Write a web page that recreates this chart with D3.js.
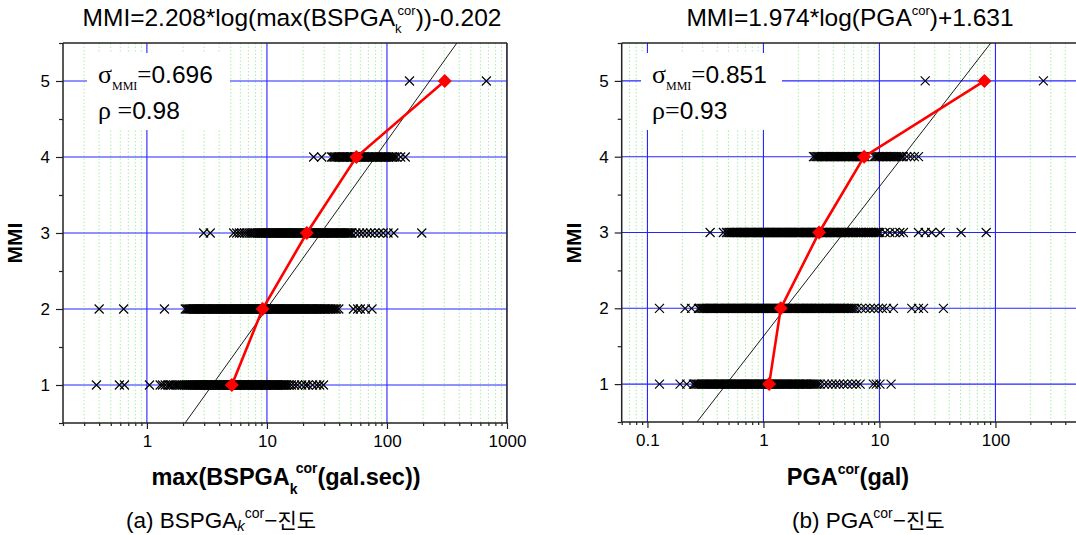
<!DOCTYPE html>
<html><head><meta charset="utf-8">
<script src="https://cdn.jsdelivr.net/npm/d3@7"></script>
<style>body{margin:0;background:#fff}svg{display:block}</style>
</head><body><svg id="c" width="1076" height="535"></svg>
<script>
// ---------------- data ----------------
const mmiLevels = [1, 2, 3, 4, 5];
const yTickLabels = ["1", "2", "3", "4", "5"];

// (a) max(BSPGA_k^cor) values for each MMI level
const bspMMI1 = [0.38, 0.59, 0.65, 1.05, 1.29, 1.35, 1.42, 1.5, 1.55, 1.6, 1.68, 1.75, 1.82, 1.9, 1.98, 2.05, 2.12, 2.2, 2.3, 2.4, 2.5, 2.6, 2.7, 2.8, 2.9, 3.0, 3.1, 3.2, 3.3, 3.4, 3.5, 3.65, 3.8, 3.95, 4.1, 4.25, 4.4, 4.55, 4.7, 4.85, 5.0, 5.2, 5.4, 5.6, 5.8, 6.0, 6.2, 6.4, 6.6, 6.8, 7.0, 7.3, 7.6, 7.9, 8.2, 8.5, 8.8, 9.1, 9.4, 9.7, 10, 10.4, 10.8, 11.2, 11.6, 12, 12.5, 13, 13.5, 14, 14.6, 15.2, 16, 17, 18, 19.5, 21, 22, 24, 26, 27.5, 29.6,
  2.16, 2.25, 2.35, 2.45, 2.55, 2.65, 2.75, 2.85, 2.95, 3.05, 3.15, 3.25, 3.35, 3.45, 3.57, 3.72, 3.87, 4.02, 4.17, 4.32, 4.47, 4.62, 4.77, 4.92, 5.1, 5.3, 5.5, 5.7, 5.9, 6.1, 6.3, 6.5, 6.7, 6.9, 7.15, 7.45, 7.75, 8.05, 8.35, 8.65, 8.95, 9.25, 9.55, 9.85, 10.2, 10.6, 11, 11.4, 11.8, 12.25, 12.75, 13.25, 13.75, 14.3];
const bspMMI2 = [0.40, 0.64, 1.40, 2.09, 2.2, 2.3, 2.4, 2.5, 2.6, 2.7, 2.8, 2.9, 3.0, 3.1, 3.2, 3.35, 3.5, 3.65, 3.8, 3.95, 4.1, 4.25, 4.4, 4.6, 4.8, 5.0, 5.2, 5.4, 5.6, 5.8, 6.0, 6.2, 6.4, 6.6, 6.8, 7.0, 7.3, 7.6, 7.9, 8.2, 8.5, 8.8, 9.1, 9.4, 9.7, 10, 10.4, 10.8, 11.2, 11.6, 12, 12.5, 13, 13.5, 14, 14.5, 15, 15.6, 16.2, 16.8, 17.4, 18, 18.7, 19.4, 20, 21, 22, 23, 24, 25, 26, 27, 28, 29.5, 31, 33, 35, 37, 39.7, 52.5, 57, 60, 66, 75,
  2.15, 2.25, 2.35, 2.45, 2.55, 2.65, 2.75, 2.85, 2.95, 3.05, 3.15, 3.27, 3.42, 3.57, 3.72, 3.87, 4.02, 4.17, 4.32, 4.5, 4.7, 4.9, 5.1, 5.3, 5.5, 5.7, 5.9, 6.1, 6.3, 6.5, 6.7, 6.9, 7.15, 7.45, 7.75, 8.05, 8.35, 8.65, 8.95, 9.25, 9.55, 9.85, 10.2, 10.6, 11, 11.4, 11.8, 12.25, 12.75, 13.25, 13.75, 14.25, 14.75, 15.3, 15.9, 16.5, 17.1, 17.7, 18.35, 19.05, 19.7, 20.5, 21.5, 22.5, 23.5, 24.5, 25.5, 26.5, 27.5, 28.7, 30.2, 32, 34, 36, 38];
const bspMMI3 = [2.97, 3.37, 5.28, 5.6, 5.9, 6.2, 6.5, 6.8, 7.1, 7.4, 7.7, 8.0, 8.3, 8.6, 8.9, 9.2, 9.5, 9.8, 10.2, 10.6, 11, 11.4, 11.8, 12.2, 12.7, 13.2, 13.7, 14.2, 14.8, 15.4, 16, 16.6, 17.2, 17.8, 18.5, 19.2, 20, 21, 22, 23, 24, 25, 26, 27, 28, 29, 30, 31.5, 33, 34.5, 36, 37.5, 39, 41, 43, 45, 47, 49, 51, 55, 59, 63, 68, 73, 79, 86, 93, 102, 114, 195,
  8.45, 8.75, 9.05, 9.35, 9.65, 10, 10.4, 10.8, 11.2, 11.6, 12, 12.45, 12.95, 13.45, 13.95, 14.5, 15.1, 15.7, 16.3, 16.9, 17.5, 18.15, 18.85, 19.6, 20.5, 21.5, 22.5, 23.5, 24.5, 25.5, 26.5, 27.5, 28.5, 29.5, 30.7, 32.2, 33.7, 35.2, 36.7, 38.2, 40, 42, 44, 46, 48, 50];
const bspMMI4 = [24.5, 28.6, 34.6, 36.5, 38.5, 40.5, 42.5, 44.5, 47, 49.5, 52, 55, 58, 61, 64, 67, 70, 74, 78, 82, 86, 90, 95, 100, 106, 112, 120, 130, 142,
  35.5, 37.5, 39.5, 41.5, 43.5, 45.7, 48.2, 50.7, 53.5, 56.5, 59.5, 62.5, 65.5, 68.5, 72, 76, 80, 84, 88, 92.5, 97.5, 103, 109, 116];
const bspMMI5 = [154, 673];
const bspMean = [5.1, 9.2, 21.5, 55.6, 303];
const bspFit = { slope: 2.208, intercept: -0.202 };
const bspXTicks = [1, 10, 100, 1000];
const bspXTickLabels = ["1", "10", "100", "1000"];

// (b) PGA^cor values for each MMI level
const pgaMMI1 = [0.127, 0.191, 0.218, 0.249, 0.262, 0.275, 0.29, 0.305, 0.32, 0.335, 0.35, 0.365, 0.38, 0.4, 0.42, 0.44, 0.46, 0.48, 0.5, 0.52, 0.545, 0.57, 0.595, 0.62, 0.645, 0.67, 0.7, 0.73, 0.76, 0.79, 0.82, 0.86, 0.9, 0.94, 0.98, 1.02, 1.07, 1.12, 1.17, 1.22, 1.27, 1.33, 1.39, 1.45, 1.52, 1.59, 1.66, 1.74, 1.82, 1.9, 2.0, 2.1, 2.2, 2.3, 2.4, 2.55, 2.7, 2.85, 3.08, 3.35, 3.6, 3.9, 4.2, 4.5, 4.9, 5.3, 5.8, 6.3, 6.82, 8.87, 9.4, 10.1, 12.6,
  0.255, 0.268, 0.282, 0.297, 0.312, 0.327, 0.342, 0.357, 0.372, 0.39, 0.41, 0.43, 0.45, 0.47, 0.49, 0.51, 0.532, 0.557, 0.582, 0.607, 0.632, 0.657, 0.685, 0.715, 0.745, 0.775, 0.805, 0.84, 0.88, 0.92, 0.96, 1.0, 1.045, 1.095, 1.145, 1.195, 1.245, 1.3, 1.36, 1.42, 1.485, 1.555, 1.625, 1.7, 1.78, 1.86, 1.95, 2.05, 2.15, 2.25, 2.35, 2.47, 2.62, 2.77, 2.95];
const pgaMMI2 = [0.127, 0.211, 0.24, 0.275, 0.29, 0.305, 0.32, 0.335, 0.35, 0.365, 0.38, 0.4, 0.42, 0.44, 0.46, 0.48, 0.5, 0.52, 0.545, 0.57, 0.595, 0.62, 0.645, 0.67, 0.7, 0.73, 0.76, 0.79, 0.82, 0.86, 0.9, 0.94, 0.98, 1.02, 1.07, 1.12, 1.17, 1.22, 1.27, 1.33, 1.39, 1.45, 1.52, 1.59, 1.66, 1.74, 1.82, 1.9, 2.0, 2.1, 2.2, 2.3, 2.4, 2.5, 2.6, 2.75, 2.9, 3.05, 3.2, 3.35, 3.5, 3.7, 3.9, 4.1, 4.3, 4.5, 4.75, 5.0, 5.3, 5.6, 5.9, 6.38, 7.0, 7.6, 8.3, 9.0, 9.8, 10.6, 11.5, 13.2, 19, 21.7, 24, 35.6,
  0.282, 0.297, 0.312, 0.327, 0.342, 0.357, 0.372, 0.39, 0.41, 0.43, 0.45, 0.47, 0.49, 0.51, 0.532, 0.557, 0.582, 0.607, 0.632, 0.657, 0.685, 0.715, 0.745, 0.775, 0.805, 0.84, 0.88, 0.92, 0.96, 1.0, 1.045, 1.095, 1.145, 1.195, 1.245, 1.3, 1.36, 1.42, 1.485, 1.555, 1.625, 1.7, 1.78, 1.86, 1.95, 2.05, 2.15, 2.25, 2.35, 2.45, 2.55, 2.67, 2.82, 2.97, 3.12, 3.27, 3.42, 3.6, 3.8, 4.0, 4.2, 4.4, 4.62, 4.87, 5.15, 5.45, 5.75, 6.1];
const pgaMMI3 = [0.347, 0.452, 0.48, 0.51, 0.54, 0.57, 0.6, 0.63, 0.66, 0.69, 0.72, 0.75, 0.78, 0.81, 0.85, 0.89, 0.93, 0.97, 1.01, 1.05, 1.1, 1.15, 1.2, 1.25, 1.3, 1.36, 1.42, 1.48, 1.54, 1.61, 1.68, 1.75, 1.83, 1.91, 2.0, 2.1, 2.2, 2.3, 2.4, 2.5, 2.6, 2.7, 2.85, 3.0, 3.15, 3.3, 3.45, 3.6, 3.8, 4.0, 4.2, 4.4, 4.6, 4.85, 5.1, 5.4, 5.7, 6.0, 6.4, 6.8, 7.3, 7.8, 8.3, 8.9, 9.5, 10.1, 11.2, 12.3, 13.6, 15, 16.1, 21.7, 24.8, 28.2, 33.4, 50.6, 83.2,
  0.495, 0.525, 0.555, 0.585, 0.615, 0.645, 0.675, 0.705, 0.735, 0.765, 0.795, 0.83, 0.87, 0.91, 0.95, 0.99, 1.03, 1.075, 1.125, 1.175, 1.225, 1.275, 1.33, 1.39, 1.45, 1.51, 1.575, 1.645, 1.715, 1.79, 1.87, 1.955, 2.05, 2.15, 2.25, 2.35, 2.45, 2.55, 2.65, 2.77, 2.92, 3.07, 3.22, 3.37, 3.52, 3.7, 3.9, 4.1, 4.3, 4.5, 4.72, 4.97, 5.25, 5.55, 5.85, 6.2, 6.6, 7.05, 7.55, 8.05, 8.6, 9.2, 9.8];
const pgaMMI4 = [2.7, 2.85, 3.0, 3.15, 3.3, 3.45, 3.6, 3.8, 4.0, 4.2, 4.4, 4.6, 4.85, 5.1, 5.4, 5.7, 6.0, 6.3, 6.6, 6.9, 7.2, 7.5, 9.0, 9.5, 10, 10.6, 11.2, 11.8, 12.5, 13.2, 14, 15, 16, 17.2, 18.5, 20, 21.7,
  2.77, 2.92, 3.07, 3.22, 3.37, 3.52, 3.7, 3.9, 4.1, 4.3, 4.5, 4.72, 4.97, 5.25, 5.55, 5.85, 6.15, 6.45, 6.75, 7.05, 7.35, 9.25, 9.75, 10.3, 10.9, 11.5, 12.15, 12.85, 13.6, 14.5, 15.5];
const pgaMMI5 = [24.8, 259];
const pgaMean = [1.12, 1.41, 3.02, 7.38, 80.4];
const pgaFit = { slope: 1.974, intercept: 1.631 };
const pgaXTicks = [0.1, 1, 10, 100];
const pgaXTickLabels = ["0.1", "1", "10", "100"];

// ---------------- drawing ----------------
const W = 1076;
const svg = d3.select("#c");
const SANS = "'Liberation Sans', Arial, sans-serif";
const SERIF = "'Liberation Serif', 'Times New Roman', serif";
const KR = "'Noto Sans CJK KR', sans-serif";
const BLUE = "#2424ff", GREEN = "#a8eea8", RED = "#ff0000";

function rich(x, y, parts, base) {
  const t = svg.append("text").attr("x", x).attr("y", y)
    .attr("text-anchor", base.anchor || "start")
    .style("font-family", base.family).style("font-size", base.size + "px")
    .style("font-weight", base.weight || "normal").attr("fill", "#000");
  parts.forEach(p => {
    const s = t.append("tspan").text(p.t);
    if (p.dx) s.attr("dx", p.dx);
    if (p.dy) s.attr("dy", p.dy);
    if (p.size) s.style("font-size", p.size + "px");
    if (p.family) s.style("font-family", p.family);
    if (p.style) s.style("font-style", p.style);
    if (p.weight) s.style("font-weight", p.weight);
  });
  return t;
}

function logTicks(domain) {
  const out = [];
  for (let p = Math.floor(Math.log10(domain[0])); p <= Math.ceil(Math.log10(domain[1])); p++) {
    for (let k = 1; k <= 9; k++) {
      const v = +(k * Math.pow(10, p)).toPrecision(6);
      if (v >= domain[0] * 0.9999 && v <= domain[1] * 1.0001) out.push(v);
    }
  }
  return out;
}

function drawPanel(cfg) {
  const x = d3.scaleLog().domain(cfg.xDomain).range(cfg.xRange);
  const y = d3.scaleLinear().domain([0.5, 5.5]).range(cfg.yRange);
  const [x0, x1] = cfg.xRange, [yb, yt] = cfg.yRange;
  const xr = Math.min(x1, W);
  svg.append("clipPath").attr("id", cfg.id + "clip").append("rect")
    .attr("x", x0).attr("y", yt).attr("width", xr - x0).attr("height", yb - yt);
  const g = svg.append("g").attr("clip-path", `url(#${cfg.id}clip)`);

  const allTicks = logTicks(cfg.xDomain);
  const isDec = v => Math.abs(Math.log10(v) - Math.round(Math.log10(v))) <= 1e-6;
  const minors = allTicks.filter(v => !isDec(v));
  const decades = allTicks.filter(isDec);

  g.selectAll(null).data(minors).join("line")
    .attr("x1", d => x(d)).attr("x2", d => x(d)).attr("y1", yt).attr("y2", yb)
    .attr("stroke", GREEN).attr("stroke-width", 1).attr("stroke-dasharray", "1.5,2");
  g.selectAll(null).data(decades).join("line")
    .attr("x1", d => x(d)).attr("x2", d => x(d)).attr("y1", yt).attr("y2", yb)
    .attr("stroke", BLUE).attr("stroke-width", 1.1);
  g.selectAll(null).data(mmiLevels).join("line")
    .attr("x1", x0).attr("x2", xr).attr("y1", d => y(d)).attr("y2", d => y(d))
    .attr("stroke", BLUE).attr("stroke-width", 1.1);

  // annotation background
  g.append("rect").attr("x", cfg.box[0]).attr("y", cfg.box[1])
    .attr("width", cfg.box[2]).attr("height", cfg.box[3]).attr("fill", "#fff");

  // regression line
  const fitPts = [0.5, 5.5].map(v => [Math.pow(10, (v - cfg.fit.intercept) / cfg.fit.slope), v]);
  g.append("path").attr("d", d3.line().x(d => x(d[0])).y(d => y(d[1]))(fitPts))
    .attr("fill", "none").attr("stroke", "#000").attr("stroke-width", 0.9);

  // scatter points
  const pts = cfg.series.flatMap((arr, i) => arr.map(v => ({ v, m: mmiLevels[i] })));
  g.selectAll(null).data(pts).join("path")
    .attr("transform", d => `translate(${x(d.v)},${y(d.m)})`)
    .attr("d", "M-4.5,-4.5L4.5,4.5M-4.5,4.5L4.5,-4.5")
    .attr("stroke", "#000").attr("stroke-width", 1.15).attr("fill", "none");

  // mean line + diamonds
  const means = cfg.mean.map((v, i) => ({ v, m: mmiLevels[i] }));
  g.append("path").attr("d", d3.line().x(d => x(d.v)).y(d => y(d.m))(means))
    .attr("fill", "none").attr("stroke", RED).attr("stroke-width", 2.6);
  g.selectAll(null).data(means).join("path")
    .attr("transform", d => `translate(${x(d.v)},${y(d.m)})`)
    .attr("d", "M0,-7L7,0L0,7L-7,0Z").attr("fill", RED);

  // frame
  const fr = svg.append("g").attr("stroke", "#222").attr("stroke-width", 1.5);
  fr.append("line").attr("x1", x0).attr("x2", x0).attr("y1", yt).attr("y2", yb);
  fr.append("line").attr("x1", x0).attr("x2", xr).attr("y1", yt).attr("y2", yt);
  fr.append("line").attr("x1", x0).attr("x2", xr).attr("y1", yb).attr("y2", yb);
  if (x1 <= W) fr.append("line").attr("x1", x1).attr("x2", x1).attr("y1", yt).attr("y2", yb);

  // axes
  const ax = svg.append("g").attr("transform", `translate(0,${yb})`)
    .call(d3.axisBottom(x).tickValues(minors.filter(v => x(v) <= W)).tickSize(3).tickFormat(""));
  const axM = svg.append("g").attr("transform", `translate(0,${yb})`)
    .call(d3.axisBottom(x).tickValues(cfg.xTicks).tickSize(6).tickPadding(6)
      .tickFormat((d, i) => cfg.xTickLabels[i]));
  const ayMinor = svg.append("g").attr("transform", `translate(${x0},0)`)
    .call(d3.axisLeft(y).tickValues([0.5, 1.5, 2.5, 3.5, 4.5, 5.5]).tickSize(4).tickFormat(""));
  const ay = svg.append("g").attr("transform", `translate(${x0},0)`)
    .call(d3.axisLeft(y).tickValues(mmiLevels).tickSize(7).tickPadding(6)
      .tickFormat((d, i) => yTickLabels[i]));
  [ax, axM, ayMinor, ay].forEach(a => {
    a.select(".domain").remove();
    a.selectAll(".tick line").attr("stroke", "#222").attr("stroke-width", 1.2);
    a.selectAll("text").style("font-family", SANS).style("font-size", "17px").attr("fill", "#000");
  });

  // y label
  svg.append("text").attr("transform", `translate(${cfg.yLabelX},${cfg.yLabelY}) rotate(-90)`)
    .attr("text-anchor", "middle").style("font-family", SANS).style("font-size", "21px")
    .style("font-weight", "bold").text("MMI");
}

drawPanel({
  id: "a", xDomain: [0.2, 1000], xRange: [63, 507], yRange: [423, 43],
  box: [87, 53, 143, 77], fit: bspFit, mean: bspMean,
  series: [bspMMI1, bspMMI2, bspMMI3, bspMMI4, bspMMI5],
  xTicks: bspXTicks, xTickLabels: bspXTickLabels, yLabelX: 22, yLabelY: 243
});
drawPanel({
  id: "b", xDomain: [0.06, 1000], xRange: [621.7, 621.7 + 116 * Math.log10(1000 / 0.06)], yRange: [422, 43],
  box: [641, 53, 141, 77], fit: pgaFit, mean: pgaMean,
  series: [pgaMMI1, pgaMMI2, pgaMMI3, pgaMMI4, pgaMMI5],
  xTicks: pgaXTicks, xTickLabels: pgaXTickLabels, yLabelX: 581, yLabelY: 243
});

// titles
rich(292, 26, [
  { t: "MMI=2.208*log(max(BSPGA" }, { t: "k", size: 13, dy: 7 },
  { t: "cor", size: 13, dx: -4, dy: -18 }, { t: "))-0.202", dy: 11 }
], { family: SANS, size: 24.5, anchor: "middle" });
rich(850, 26, [
  { t: "MMI=1.974*log(PGA" }, { t: "cor", size: 13, dy: -11 }, { t: ")+1.631", dy: 11 }
], { family: SANS, size: 24.5, anchor: "middle" });

// annotations
rich(98, 83, [
  { t: "σ", family: SERIF, size: 26 }, { t: "MMI", family: SERIF, size: 12, dy: 7 },
  { t: "=", family: SERIF, size: 25, dy: -7 }, { t: "0.696" }
], { family: SANS, size: 24.5 });
rich(98, 119, [
  { t: "ρ =", family: SERIF, size: 26 }, { t: "0.98" }
], { family: SANS, size: 24.5 });
rich(652, 83, [
  { t: "σ", family: SERIF, size: 26 }, { t: "MMI", family: SERIF, size: 12, dy: 7 },
  { t: "=", family: SERIF, size: 25, dy: -7 }, { t: "0.851" }
], { family: SANS, size: 24.5 });
rich(652, 119, [
  { t: "ρ=", family: SERIF, size: 26 }, { t: "0.93" }
], { family: SANS, size: 24.5 });

// x labels
rich(286, 485, [
  { t: "max(BSPGA" }, { t: "k", size: 14, dy: 9 },
  { t: "cor", size: 14, dx: -2, dy: -21 }, { t: "(gal.sec))", dy: 12 }
], { family: SANS, size: 23.5, weight: "bold", anchor: "middle" });
rich(848, 485, [
  { t: "PGA" }, { t: "cor", size: 14, dy: -11 }, { t: "(gal)", dy: 11 }
], { family: SANS, size: 23.5, weight: "bold", anchor: "middle" });

// captions
rich(126, 528, [
  { t: "(a)  BSPGA" }, { t: "k", style: "italic", size: 15, dy: 3 },
  { t: "cor", size: 14, dy: -13 }, { t: "−", dy: 10 },
  { t: "진도", family: KR, size: 21 }
], { family: SANS, size: 22.5 });
rich(792, 528, [
  { t: "(b)  PGA" }, { t: "cor", size: 14, dy: -10 }, { t: "−", dy: 10 },
  { t: "진도", family: KR, size: 21 }
], { family: SANS, size: 22.5 });
</script></body></html>
